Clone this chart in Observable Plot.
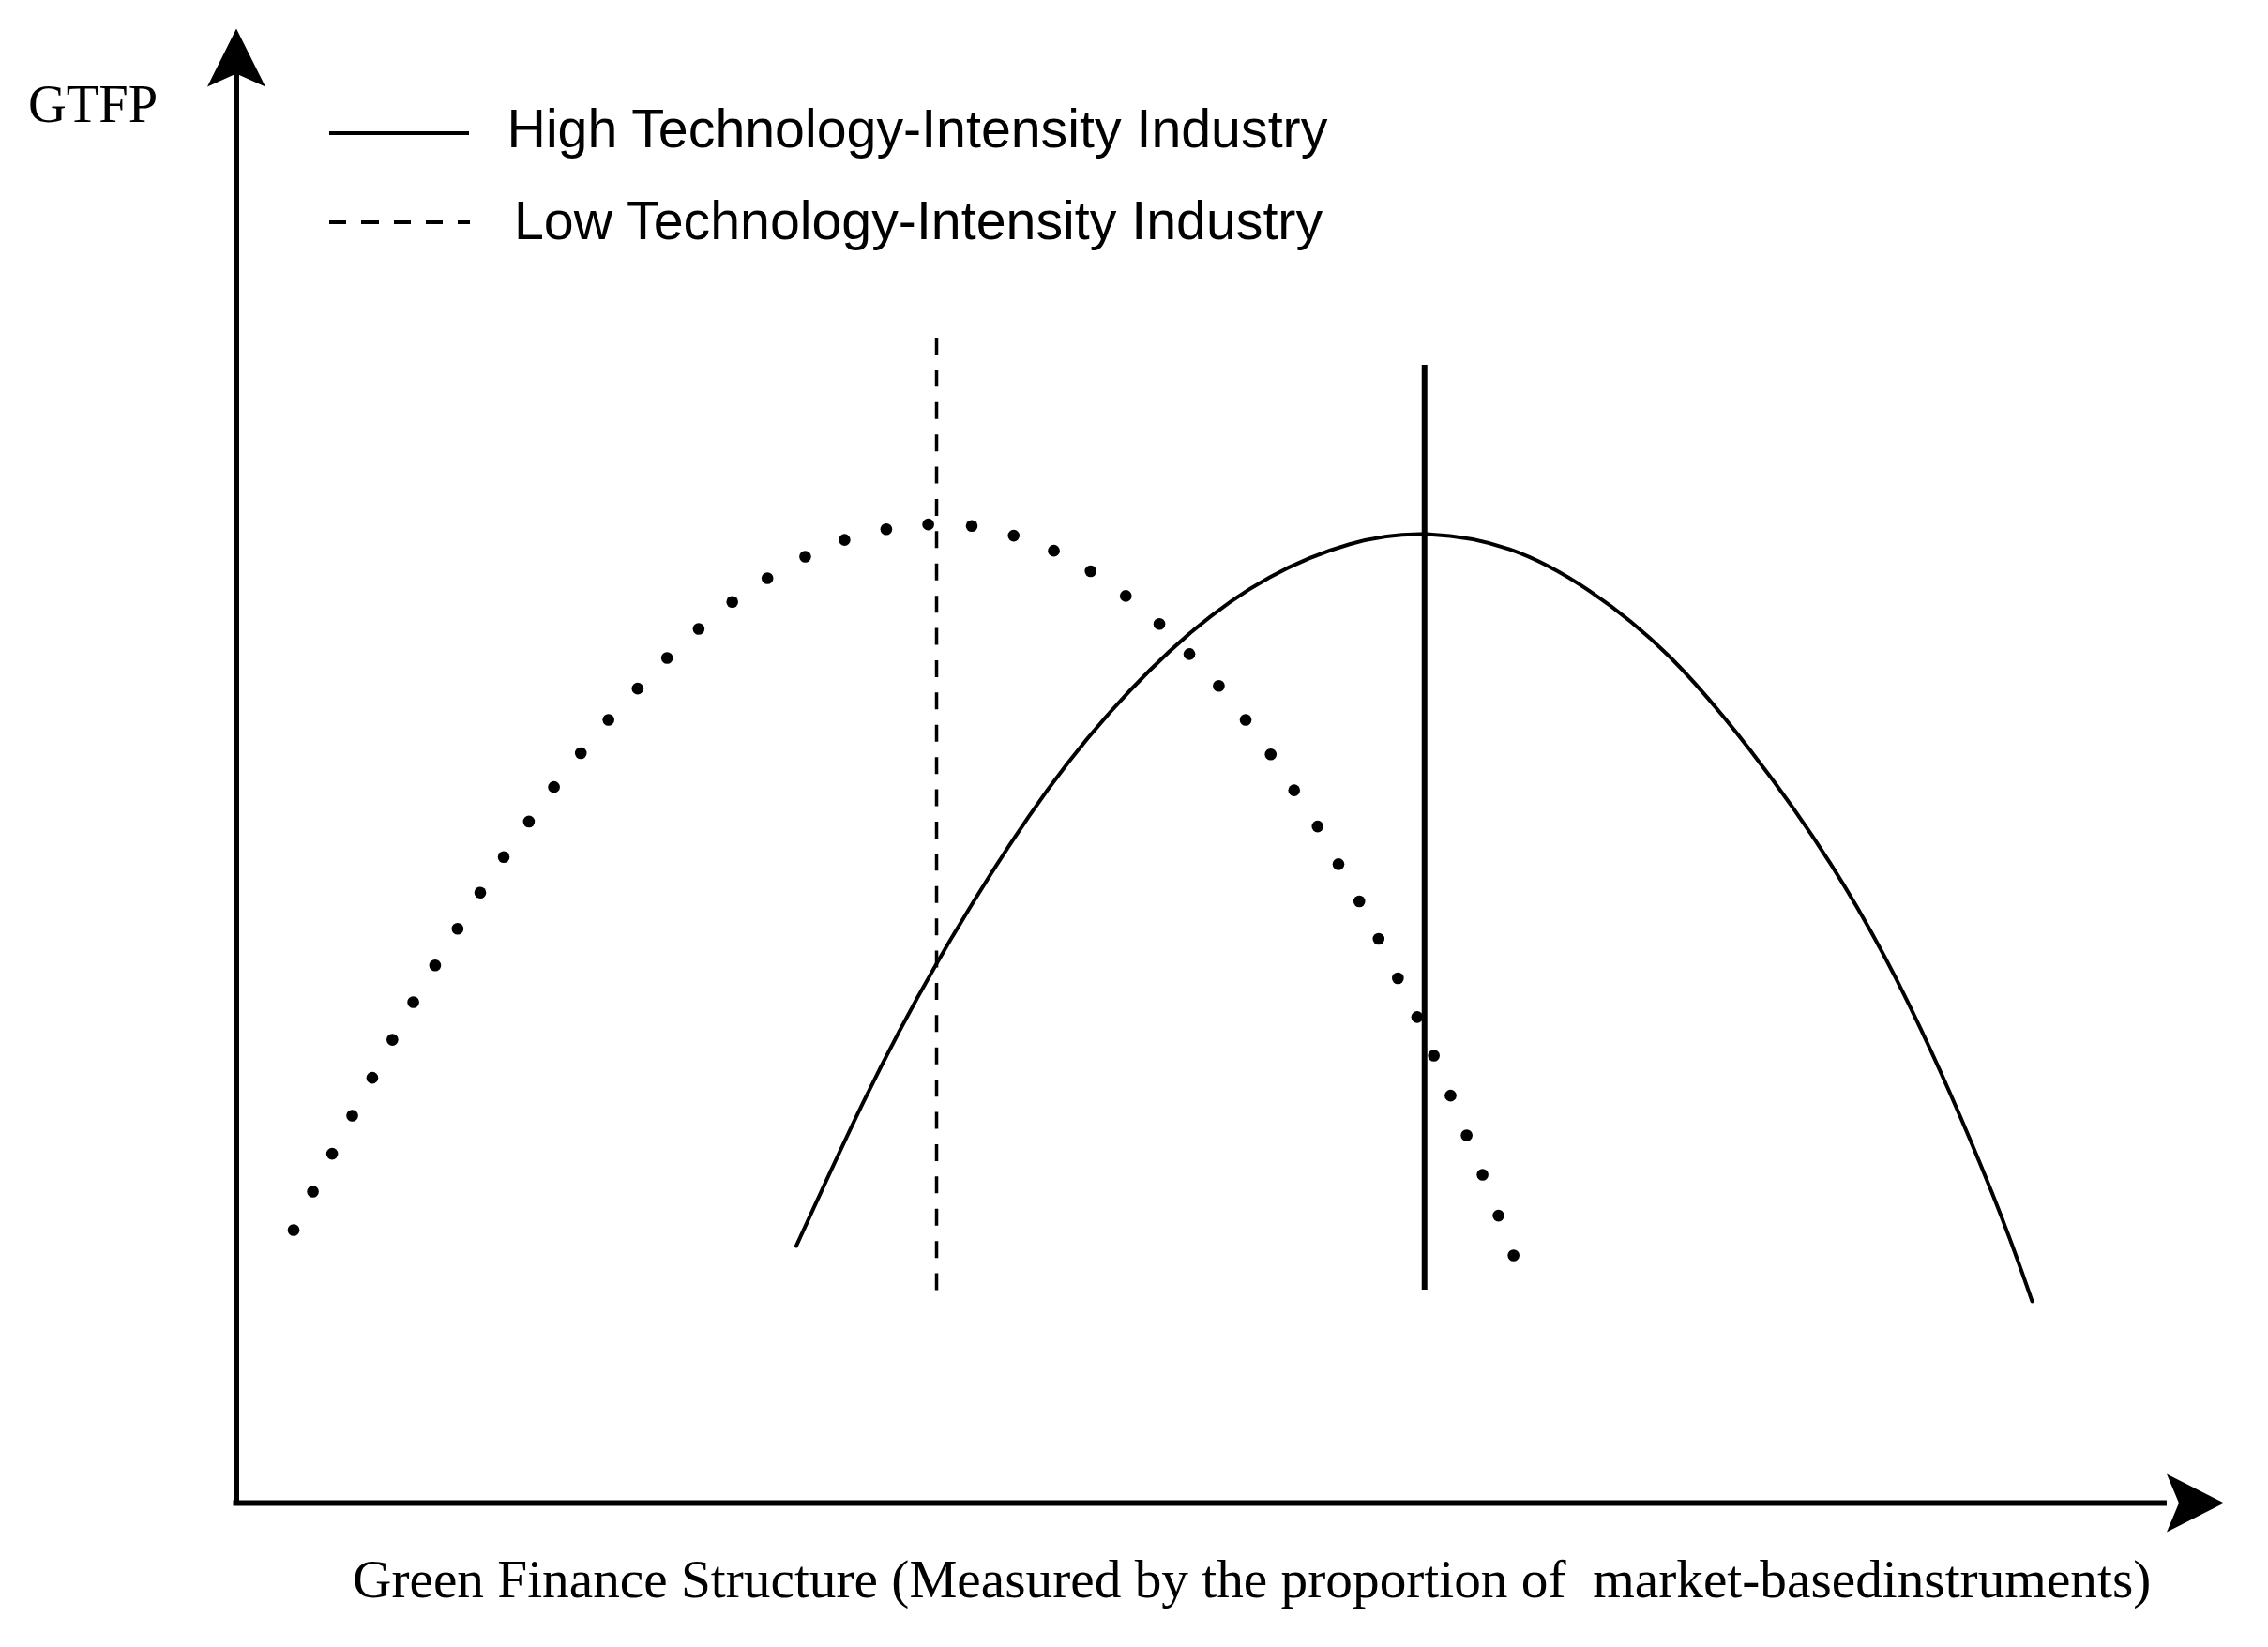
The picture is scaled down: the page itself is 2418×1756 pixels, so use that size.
<!DOCTYPE html>
<html>
<head>
<meta charset="utf-8">
<script src="https://cdn.jsdelivr.net/npm/d3@7"></script>
<script src="https://cdn.jsdelivr.net/npm/@observablehq/plot@0.6"></script>
<style>
  html, body { margin: 0; padding: 0; background: #fff; }
  #wrap { position: relative; width: 2418px; height: 1756px; overflow: hidden; background: #fff; }
  #wrap svg { position: absolute; left: 0; top: 0; }
  .lbl { position: absolute; white-space: pre; line-height: 1; color: #000; }
  .serif { font-family: "Liberation Serif", "Times New Roman", serif; }
  .sans { font-family: "Liberation Sans", Arial, sans-serif; }
  .sw { position: absolute; height: 4px; }
</style>
</head>
<body>
<div id="wrap"></div>
<script>
// ---- Text ----
const yAxisLabel = "GTFP";
const xAxisLabel = "Green Finance Structure (Measured by the proportion of  market-basedinstruments)";
const seriesNames = ["High Technology-Intensity Industry", "Low Technology-Intensity Industry"];

// ---- Axis extent (conceptual units 0..100) ----
const axisExtent = [0, 100];

// ---- High technology-intensity industry (solid inverted-U) ----
const highX = [28.17, 31.55, 35.23, 39.85, 43.91, 47.92, 51.99, 56.01, 59.77, 64.06, 68.12, 72.13, 76.19, 80.20, 84.26, 88.27, 90.35];
const highY = [17.43, 27.20, 36.58, 46.53, 53.56, 58.93, 62.79, 65.03, 65.71, 64.69, 61.83, 57.38, 51.02, 43.38, 33.52, 21.25, 13.68];

// ---- Low technology-intensity industry (dotted inverted-U) ----
const lowX = [2.88, 3.85, 4.82, 5.83, 6.84, 7.85, 8.90, 10.00, 11.13, 12.27, 13.45, 14.72, 15.98, 17.33, 18.72, 20.19, 21.67, 23.26, 24.95, 26.72, 28.62, 30.60, 32.70, 34.81, 37.00, 39.11, 41.13, 42.98, 44.75, 46.44, 47.95, 49.43, 50.78, 52.04, 53.22, 54.40, 55.45, 56.50, 57.47, 58.44, 59.41, 60.25, 61.09, 61.90, 62.70, 63.50, 64.26];
const lowY = [18.51, 21.12, 23.69, 26.27, 28.84, 31.42, 33.97, 36.47, 38.95, 41.40, 43.81, 46.22, 48.56, 50.86, 53.12, 55.24, 57.32, 59.29, 61.12, 62.72, 64.19, 65.32, 66.05, 66.37, 66.27, 65.61, 64.59, 63.20, 61.52, 59.62, 57.58, 55.42, 53.12, 50.78, 48.34, 45.89, 43.33, 40.81, 38.26, 35.59, 32.96, 30.34, 27.63, 24.94, 22.26, 19.49, 16.79];

// ---- Turning-point markers (vertical lines): [low, high] ----
const turnX = [35.23, 59.78];
const turnTop = [79.01, 77.16];
const turnBottom = [14.38, 14.44];

// ---- Build tables ----
const high = highX.map((x, i) => ({x, y: highY[i]}));
const low = lowX.map((x, i) => ({x, y: lowY[i]}));
const turns = turnX.map((x, i) => ({x, top: turnTop[i], bottom: turnBottom[i], series: seriesNames[1 - i]}));

// Filled stealth arrowheads as custom symbols (tip at the dot position)
const arrowUp = {
  draw(ctx, size) {
    const k = Math.sqrt(size / Math.PI);
    ctx.moveTo(0, 0);
    ctx.lineTo(31 * k, 62 * k);
    ctx.lineTo(0, 48 * k);
    ctx.lineTo(-31 * k, 62 * k);
    ctx.closePath();
  }
};
const arrowRight = {
  draw(ctx, size) {
    const k = Math.sqrt(size / Math.PI);
    ctx.moveTo(0, 0);
    ctx.lineTo(-61 * k, -31 * k);
    ctx.lineTo(-48 * k, 0);
    ctx.lineTo(-61 * k, 31 * k);
    ctx.closePath();
  }
};

const chart = Plot.plot({
  width: 2418,
  height: 1756,
  marginLeft: 251.5,
  marginRight: 47.5,
  marginTop: 30,
  marginBottom: 154,
  style: {background: "white", overflow: "visible"},
  x: {domain: axisExtent, axis: null},
  y: {domain: axisExtent, axis: null},
  marks: [
    // axes
    Plot.ruleY([axisExtent[0]], {x1: axisExtent[0], x2: axisExtent[1] - 3, stroke: "black", strokeWidth: 6, strokeLinecap: "square"}),
    Plot.ruleX([axisExtent[0]], {y1: axisExtent[0], y2: axisExtent[1] - 3, stroke: "black", strokeWidth: 6, strokeLinecap: "square"}),
    // high-tech solid curve
    Plot.line(high, {x: "x", y: "y", curve: "natural", stroke: "black", strokeWidth: 4}),
    // turning point lines
    Plot.ruleX(turns.filter(d => d.series === seriesNames[1]), {x: "x", y1: "top", y2: "bottom", stroke: "black", strokeWidth: 3.5, strokeDasharray: "18,16.4"}),
    Plot.ruleX(turns.filter(d => d.series === seriesNames[0]), {x: "x", y1: "top", y2: "bottom", stroke: "black", strokeWidth: 6}),
    // low-tech dotted curve
    Plot.dot(low, {x: "x", y: "y", r: 6.3, fill: "black", stroke: "none"}),
    // arrowheads
    Plot.dot([{x: axisExtent[0], y: axisExtent[1]}], {x: "x", y: "y", r: 1, symbol: arrowUp, fill: "black", stroke: "none"}),
    Plot.dot([{x: axisExtent[1], y: axisExtent[0]}], {x: "x", y: "y", r: 1, symbol: arrowRight, fill: "black", stroke: "none"})
  ]
});

const wrap = document.getElementById("wrap");
wrap.appendChild(chart);

function addLabel(text, cls, left, top, size) {
  const d = document.createElement("div");
  d.className = "lbl " + cls;
  d.textContent = text;
  d.style.left = left + "px";
  d.style.top = top + "px";
  d.style.fontSize = size + "px";
  wrap.appendChild(d);
}
function addSwatch(left, top, width, bg) {
  const d = document.createElement("div");
  d.className = "sw";
  d.style.left = left + "px";
  d.style.top = top + "px";
  d.style.width = width + "px";
  d.style.background = bg;
  wrap.appendChild(d);
}

// y-axis label, x-axis label
addLabel(yAxisLabel, "serif", 30, 83, 56.5);
addLabel(xAxisLabel, "serif", 376, 1655, 57.3);

// legend
addSwatch(351, 140, 149, "#000");
addLabel(seriesNames[0], "sans", 540.5, 108.5, 57.3);
addSwatch(351, 235, 150, "repeating-linear-gradient(to right, #000 0 18.5px, transparent 18.5px 34.3px)");
addLabel(seriesNames[1], "sans", 548, 206.5, 57.3);
</script>
</body>
</html>
